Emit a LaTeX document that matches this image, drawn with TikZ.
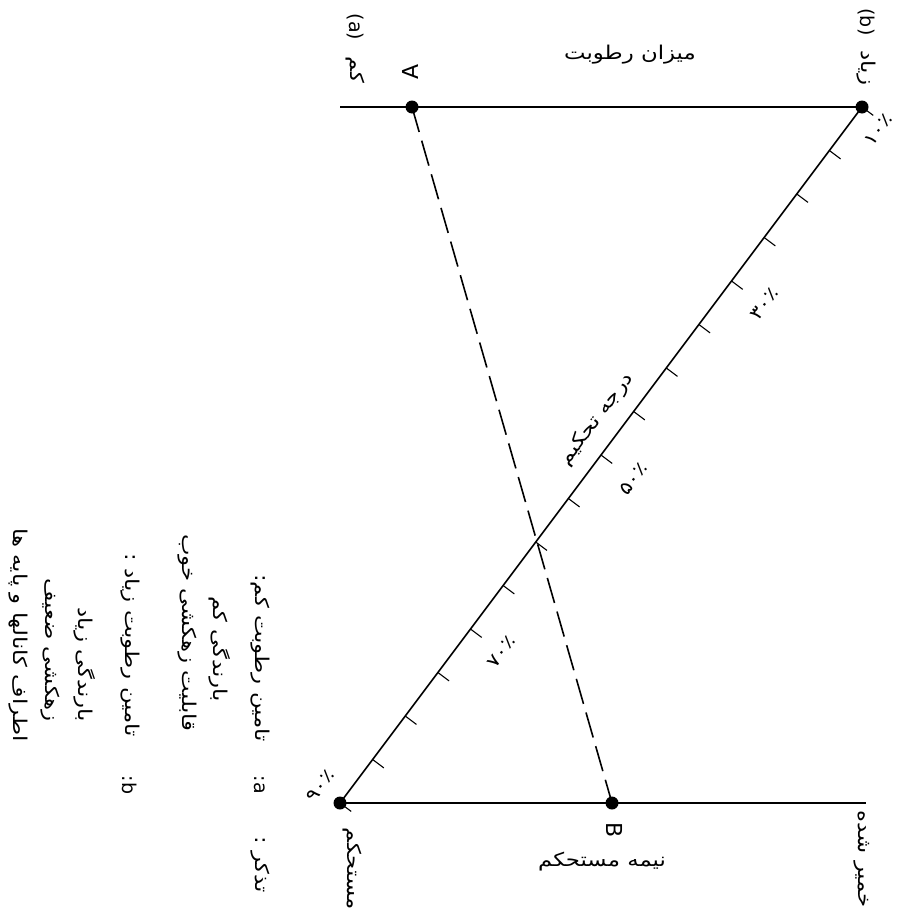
\documentclass[tikz,border=0pt]{standalone}
\usepackage{graphicx}
\usepackage{fontspec}
\setmainfont{DejaVu Sans}
\newfontfamily\fa[Script=Arabic]{DejaVu Sans}
\TeXXeTstate=1
\newcommand{\FA}[1]{\scalebox{1.2}[1]{\fa\beginR #1\endR}}
\usetikzlibrary{calc}
\begin{document}
\begin{tikzpicture}[x=1pt,y=-1pt,
  mainline/.style={line width=1.6pt},
  dashline/.style={line width=1.6pt,dash pattern=on 26pt off 9pt},
  tickline/.style={line width=1.1pt},
  dotn/.style={circle,fill=black,inner sep=0pt,minimum size=13pt},
  lbl/.style={inner sep=0pt,font=\fontsize{19}{22}\selectfont},
  vlbl/.style={lbl,rotate=-90},
  pct/.style={lbl,rotate=53.13,font=\fontsize{18}{20}\selectfont}]
\useasboundingbox (0,0) rectangle (899,913);
% points
\node[dotn] (A) at (412,107) {};
\node[dotn] (TR) at (862,107) {};
\node[dotn] (BL) at (340,803) {};
\node[dotn] (B) at (612,803) {};
\coordinate (TL) at (340,107);
\coordinate (BR) at (866,803);
% lines
\draw[mainline] (TL) -- (TR.center);
\draw[mainline] (BL.center) -- (BR);
\draw[mainline] (BL.center) -- (TR.center);
\draw[dashline] (A.center) -- (B.center);
% ticks
\foreach \k in {0,...,16}{
  \draw[tickline] ($(BL.center)!\k/16!(TR.center)$) -- ++(11.2,8.4);
}
% percentage labels
\node[pct] (p90) at ($(BL.center)+(-20,-17)$) {\FA{۹۰٪}};
\node[pct] (p70) at ($(BL.center)!0.25!(TR.center)+(31,23)$) {\FA{۷۰٪}};
\node[pct] (p50) at ($(BL.center)!0.5!(TR.center)+(32,24)$) {\FA{۵۰٪}};
\node[pct] (p30) at ($(BL.center)!0.75!(TR.center)+(33,23)$) {\FA{۳۰٪}};
\node[pct] (p10) at ($(TR.center)+(16,23)$) {\FA{۱۰٪}};
% axis title along diagonal
\node[lbl,rotate=53.13] (dt) at ($(BL.center)!0.53!(TR.center)+(-20,-15)$) {\FA{درجه تحکیم}};
% top labels
\node[lbl] (mr) at (630,55) {\FA{میزان رطوبت}};
\node[vlbl] (pa) at (355,27) {(a)};
\node[vlbl] (km) at (355,70) {\FA{کم}};
\node[lbl,rotate=90,font=\fontsize{22}{24}\selectfont] (la) at (410,72) {A};
\node[vlbl] (pb) at (866,22) {(b)};
\node[vlbl] (zy) at (866,68) {\FA{زیاد}};
% bottom labels
\node[vlbl,font=\fontsize{22}{24}\selectfont] (lb) at (615,830) {B};
\node[lbl] (nm) at (602,862) {\FA{نیمه مستحکم}};
\node[vlbl,anchor=east] (kh) at (862,908) {\FA{خمیر شده}};
\node[vlbl,anchor=east] (ms) at (352,910) {\FA{مستحکم}};
% note
\node[vlbl,anchor=east] (n1c) at (260,893) {\FA{تذکر :}};
\node[vlbl] (n1a) at (260,785) {:a};
\node[vlbl,anchor=east] (n1) at (260,742) {\FA{تامین رطوبت کم:}};
\node[vlbl,anchor=east] (n2) at (220,702) {\FA{بارندگی کم}};
\node[vlbl,anchor=east] (n3) at (187,732) {\FA{قابلیت زهکشی خوب}};
\node[vlbl] (n4b) at (130,785) {:b};
\node[vlbl,anchor=east] (n4) at (130,737) {\FA{تامین رطوبت زیاد :}};
\node[vlbl,anchor=east] (n5) at (85,722) {\FA{بارندگی زیاد}};
\node[vlbl,anchor=east] (n6) at (50,722) {\FA{زهکشی ضعیف}};
\node[vlbl,anchor=east] (n7) at (18,742) {\FA{اطراف کانالها و پایه ها}};
\end{tikzpicture}
\end{document}
